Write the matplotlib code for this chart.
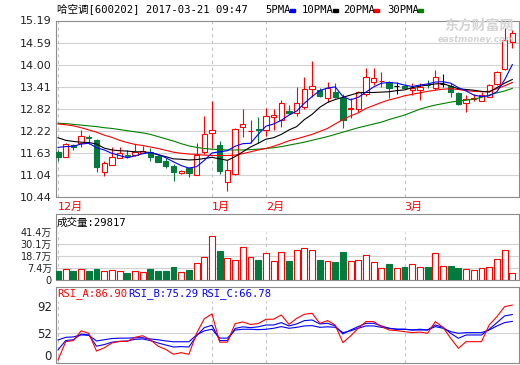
import numpy as np
import matplotlib.pyplot as plt
from matplotlib.patches import Rectangle

# --- 哈空调 600202, daily candles (Dec 2016 - 2017-03-21) ---
opens = [11.64, 11.52, 11.83, 11.90, 12.04, 11.97, 11.11, 11.30, 11.48, 11.57,
         11.56, 11.63, 11.64, 11.53, 11.40, 11.27, 11.07, 11.21, 11.03, 11.65,
         12.15, 11.83, 10.83, 11.04, 12.33, 12.20, 12.27, 12.24, 12.60, 12.51,
         12.76, 12.69, 12.85, 13.33, 13.32, 13.09, 13.25, 13.09, 12.81, 12.80,
         13.21, 13.54, 13.55, 13.54, 13.42, 13.43, 13.32, 13.32, 13.46, 13.36,
         13.47, 13.43, 13.24, 12.96, 13.08, 13.02, 13.14, 13.48, 13.87, 14.60]
highs = [11.69, 11.88, 11.87, 12.24, 12.09, 12.00, 11.41, 11.77, 11.77, 11.70,
         11.85, 11.80, 11.75, 11.57, 11.47, 11.33, 11.15, 11.25, 11.90, 12.62,
         13.02, 11.94, 11.43, 12.30, 12.80, 12.50, 12.60, 12.82, 12.80, 13.04,
         12.91, 13.40, 13.68, 14.10, 13.36, 13.52, 13.51, 13.21, 13.09, 13.30,
         13.90, 13.90, 13.80, 13.56, 13.52, 13.47, 13.50, 13.50, 13.59, 13.86,
         13.76, 13.50, 13.27, 13.18, 13.20, 13.25, 13.49, 13.82, 15.00, 14.94]
lows = [11.41, 11.50, 11.71, 11.78, 11.87, 11.10, 11.01, 11.30, 11.48, 11.48,
        11.55, 11.62, 11.39, 11.38, 11.22, 10.85, 11.05, 10.96, 11.03, 11.60,
        11.75, 11.04, 10.60, 11.03, 12.06, 11.89, 11.90, 12.08, 12.24, 12.33,
        12.66, 12.62, 12.80, 13.13, 13.13, 12.99, 13.09, 12.29, 12.55, 12.73,
        13.16, 13.45, 13.40, 13.09, 13.20, 13.33, 13.18, 13.05, 13.36, 13.32,
        13.40, 13.13, 12.90, 12.73, 13.02, 13.02, 13.12, 13.46, 13.86, 14.46]
closes = [11.51, 11.85, 11.77, 12.07, 12.02, 11.25, 11.34, 11.52, 11.61, 11.55,
          11.65, 11.68, 11.52, 11.38, 11.27, 11.11, 11.13, 11.07, 11.56, 12.13,
          12.24, 11.14, 11.16, 12.27, 12.40, 12.22, 12.25, 12.61, 12.65, 12.96,
          12.70, 12.96, 13.33, 13.42, 13.15, 13.37, 13.14, 12.51, 12.83, 13.25,
          13.66, 13.63, 13.57, 13.38, 13.42, 13.36, 13.37, 13.41, 13.44, 13.66,
          13.47, 13.25, 12.93, 13.07, 13.10, 13.18, 13.45, 13.79, 14.66, 14.84]

ma5 = [11.77, 11.79, 11.80, 11.86, 11.88, 11.76, 11.70, 11.61, 11.55, 11.49,
       11.54, 11.60, 11.63, 11.58, 11.49, 11.38, 11.28, 11.21, 11.25, 11.42,
       11.62, 11.65, 11.68, 11.80, 11.87, 11.88, 12.12, 12.34, 12.40, 12.50,
       12.64, 12.75, 12.96, 13.14, 13.30, 13.37, 13.40, 13.14, 13.05, 13.12,
       13.26, 13.40, 13.50, 13.52, 13.50, 13.45, 13.41, 13.45, 13.48, 13.53,
       13.54, 13.50, 13.38, 13.29, 13.18, 13.14, 13.16, 13.27, 13.59, 14.00]
ma10 = [12.03, 11.96, 11.93, 11.91, 11.90, 11.86, 11.75, 11.70, 11.68, 11.67,
        11.65, 11.65, 11.63, 11.57, 11.52, 11.46, 11.45, 11.43, 11.44, 11.47,
        11.50, 11.46, 11.42, 11.52, 11.65, 11.78, 11.88, 11.99, 12.03, 12.12,
        12.24, 12.33, 12.52, 12.66, 12.85, 12.98, 13.06, 13.12, 13.18, 13.24,
        13.25, 13.25, 13.26, 13.27, 13.30, 13.32, 13.38, 13.42, 13.45, 13.48,
        13.49, 13.42, 13.35, 13.33, 13.31, 13.28, 13.26, 13.38, 13.50, 13.60]
ma20 = [12.40, 12.38, 12.35, 12.30, 12.24, 12.18, 12.10, 12.04, 11.96, 11.90,
        11.85, 11.82, 11.78, 11.74, 11.69, 11.64, 11.61, 11.59, 11.58, 11.56,
        11.55, 11.55, 11.55, 11.56, 11.60, 11.65, 11.70, 11.74, 11.80, 11.87,
        11.95, 12.00, 12.06, 12.12, 12.20, 12.28, 12.40, 12.52, 12.62, 12.70,
        12.82, 12.90, 12.98, 13.05, 13.10, 13.16, 13.20, 13.24, 13.28, 13.31,
        13.34, 13.35, 13.33, 13.30, 13.28, 13.27, 13.28, 13.35, 13.43, 13.52]
ma30 = [12.42, 12.41, 12.39, 12.37, 12.35, 12.33, 12.30, 12.28, 12.25, 12.22,
        12.19, 12.16, 12.12, 12.06, 12.00, 11.94, 11.87, 11.81, 11.77, 11.74,
        11.72, 11.71, 11.70, 11.70, 11.70, 11.71, 11.72, 11.74, 11.76, 11.79,
        11.83, 11.87, 11.91, 11.96, 12.01, 12.06, 12.12, 12.18, 12.24, 12.30,
        12.35, 12.40, 12.45, 12.52, 12.58, 12.64, 12.72, 12.80, 12.86, 12.91,
        12.95, 12.99, 13.02, 13.04, 13.07, 13.12, 13.18, 13.24, 13.29, 13.36]

# volume in 万手
volume = [5.1, 6.5, 4.2, 6.5, 4.2, 6.8, 4.8, 5.8, 4.8, 3.2,
          4.8, 3.9, 6.8, 4.2, 4.2, 8.7, 3.9, 5.8, 12.6, 18.1,
          37.5, 23.3, 17.1, 15.5, 27.8, 18.1, 15.5, 21.3, 14.5, 22.3,
          13.9, 24.2, 26.2, 24.2, 15.5, 14.5, 12.9, 22.6, 14.5, 15.5,
          19.4, 13.6, 7.5, 11.6, 7.5, 8.7, 11.6, 8.7, 8.7, 21.3,
          9.7, 9.7, 7.8, 6.8, 5.8, 7.8, 8.7, 16.5, 24.2, 2.98]

rsi_a = [18.9, 41.6, 43.0, 55.0, 52.0, 30.0, 34.0, 40.0, 42.0, 42.0,
         47.0, 49.0, 44.0, 36.0, 32.0, 26.0, 28.0, 26.0, 52.0, 70.0,
         76.0, 41.0, 41.0, 64.0, 66.0, 63.0, 64.0, 69.3, 69.5, 74.7,
         63.1, 70.5, 75.5, 76.8, 64.4, 67.7, 62.3, 40.4, 48.7, 58.2,
         66.5, 66.5, 60.3, 56.1, 55.3, 54.0, 52.8, 53.5, 52.0, 66.5,
         59.4, 45.8, 33.4, 41.6, 41.6, 41.6, 62.3, 72.6, 85.0, 86.9]
rsi_b = [31.4, 43.0, 44.0, 51.0, 50.0, 36.0, 38.0, 41.0, 42.0, 42.5,
         44.5, 45.0, 43.0, 40.0, 37.5, 35.0, 35.5, 35.0, 49.0, 59.0,
         62.0, 43.0, 43.0, 58.0, 60.0, 59.0, 60.0, 62.3, 62.3, 65.2,
         61.1, 63.6, 67.7, 68.5, 63.6, 64.4, 61.1, 51.2, 56.1, 60.3,
         64.4, 64.4, 61.1, 58.2, 57.0, 57.0, 56.1, 57.0, 56.1, 62.3,
         59.4, 52.0, 45.8, 49.9, 49.9, 49.9, 57.0, 65.2, 73.5, 75.29]
rsi_c = [43.7, 47.0, 47.5, 50.0, 49.5, 42.5, 44.0, 45.5, 46.0, 46.0,
         46.5, 46.5, 45.0, 44.0, 42.5, 41.5, 41.5, 41.5, 50.0, 55.0,
         57.0, 46.0, 46.0, 56.0, 57.0, 57.0, 56.5, 57.0, 58.2, 60.3,
         58.2, 59.4, 61.1, 61.5, 59.4, 60.0, 59.4, 52.8, 55.0, 58.2,
         61.1, 61.1, 59.4, 58.2, 57.0, 57.0, 56.1, 56.1, 56.1, 60.3,
         58.2, 54.0, 52.0, 52.8, 52.8, 52.8, 56.1, 61.1, 65.2, 66.78]

month_pos = [0, 20, 27, 45]
month_labels = ['12月', '1月', '2月', '3月']
price_ticks = ['10.44', '11.04', '11.63', '12.22', '12.82', '13.41', '14.00', '14.59', '15.19']
vol_ticks = [7.4, 18.7, 30.1, 41.4]
rsi_ticks = [52, 92]

RED = '#ff0000'
GREEN = '#007a3d'
FRAME = '#8c8c8c'
GRID = '#d2d2d2'
CJK = ['DejaVu Sans', 'Noto Sans CJK SC']
MONO = ['DejaVu Sans Mono', 'Noto Sans CJK SC']

W, H = 520, 365
fig = plt.figure(figsize=(W / 100, H / 100), dpi=100)


def px_axes(left, top, right, bottom):
    a = fig.add_axes([left / W, 1 - bottom / H, (right - left) / W, (bottom - top) / H])
    for s in a.spines.values():
        s.set_color(FRAME)
        s.set_linewidth(0.8)
    a.tick_params(length=0, labelsize=8, colors='#222222', pad=3)
    a.set_xlim(-0.26, 59.87)
    return a


def ftext(x, y, s, **kw):
    return fig.text(x / W, 1 - y / H, s, va='center', **kw)


x = np.arange(len(closes))
o, h, l, c = (np.array(v) for v in (opens, highs, lows, closes))
up, down, flat = c > o, c < o, c == o

# --- price panel ---
ax = px_axes(56, 20.5, 519, 196.7)
ax.set_ylim(10.44, 15.19)
levels = np.linspace(10.44, 15.19, len(price_ticks))
ax.set_yticks(levels, price_ticks)
for lv in levels[1:-1]:
    ax.axhline(lv, color=GRID, lw=0.8, zorder=0)

wick_col = np.where(up, RED, np.where(down, GREEN, 'black'))
ax.vlines(x, l, h, colors=wick_col, lw=0.8, zorder=2)
ax.bar(x[up], (c - o)[up], bottom=o[up], width=0.68, facecolor='white',
       edgecolor=RED, lw=0.8, zorder=3)
ax.bar(x[down], (c - o)[down], bottom=o[down], width=0.68, color=GREEN,
       edgecolor=GREEN, lw=0.8, zorder=3)
ax.hlines(o[flat], x[flat] - 0.34, x[flat] + 0.34, colors='black', lw=0.8, zorder=3)

ax.plot(x, ma30, color='#008000', lw=0.8, zorder=4)
ax.plot(x, ma20, color=RED, lw=0.8, zorder=4)
ax.plot(x, ma10, color='black', lw=0.8, zorder=4)
ax.plot(x, ma5, color='#0000ff', lw=0.8, zorder=4)

ax.set_xticks(month_pos, month_labels)
for t in ax.get_xticklabels():
    t.set_color(RED)
    t.set_ha('left')
    t.set_family(CJK)
ax.tick_params(axis='x', pad=4)

# watermark
ftext(479, 26, '东方财富网', ha='center', color='#d4d4d4', fontsize=10,
      fontweight='bold', family=['Noto Sans CJK SC'])
ftext(476, 39, 'eastmoney.com', ha='center', color='#d4d4d4', fontsize=6.3,
      fontweight='bold', style='italic')

# --- volume panel ---
vh = px_axes(56, 214, 519, 232.3)
vh.set_xticks([])
vh.set_yticks([])
ftext(57, 223, '成交量:29817', ha='left', fontsize=7.6, color='black', family=MONO)

axv = px_axes(56, 232.3, 519, 280)
vol = np.array(volume)
vol_floor = vol_ticks[0] - (vol_ticks[1] - vol_ticks[0])
axv.set_ylim(vol_floor, vol_ticks[-1])
axv.set_yticks([vol_floor] + vol_ticks, ['0'] + ['%.1f万' % v for v in vol_ticks])
axv.tick_params(axis='y', labelsize=7)
for t in axv.get_yticklabels():
    t.set_family(CJK)
for lv in vol_ticks[:-1]:
    axv.axhline(lv, color=GRID, lw=0.8, zorder=0)
axv.spines['top'].set_visible(False)
vup = c >= o
axv.bar(x[vup], vol[vup] - vol_floor, bottom=vol_floor, width=0.76, facecolor='white',
        edgecolor=RED, lw=0.8, zorder=3)
axv.bar(x[~vup], vol[~vup] - vol_floor, bottom=vol_floor, width=0.76, color=GREEN,
        edgecolor=GREEN, lw=0.8, zorder=3)
axv.set_xticks([])

# --- RSI panel ---
rh = px_axes(56, 287, 519, 301)
rh.set_xticks([])
rh.set_yticks([])
ftext(57, 294, 'RSI_A:86.90', ha='left', fontsize=7.6, color=RED, family=MONO)
ftext(128, 294, 'RSI_B:75.29', ha='left', fontsize=7.6, color='#0000ff', family=MONO)
ftext(201, 294, 'RSI_C:66.78', ha='left', fontsize=7.6, color='#0000ff', family=MONO)

axr = px_axes(56, 301, 519, 363)
rsi_lo = 15.2
axr.set_ylim(rsi_lo, rsi_ticks[-1])
axr.set_yticks([rsi_lo] + rsi_ticks, ['0', '52', '92'])
axr.tick_params(axis='y', labelsize=8.5)
labs = axr.get_yticklabels()
labs[0].set_va('bottom')
labs[-1].set_va('top')
axr.spines['top'].set_visible(False)
axr.axhline(rsi_ticks[0], color=GRID, lw=0.8, zorder=0)
axr.plot(x, rsi_c, color='#0000ff', lw=0.8)
axr.plot(x, rsi_b, color='#0000ff', lw=0.8)
axr.plot(x, rsi_a, color=RED, lw=0.8)
axr.set_xticks([])

for a in (ax, axv, axr):
    for p in month_pos:
        a.axvline(p, color='#c4c4c4', lw=0.8, ls=(0, (3, 3)), zorder=0)

# --- header: title and MA legend ---
ftext(57, 10, '哈空调[600202] 2017-03-21 09:47', ha='left', fontsize=7.6,
      color='black', family=MONO)
legend = [('5PMA', '#0000ff', 265), ('10PMA', 'black', 302),
          ('20PMA', RED, 343), ('30PMA', '#008000', 387)]
for name, col, lx in legend:
    t = ftext(lx, 10, name, ha='left', fontsize=7.6, color='black', family=MONO)
    fig.patches.append(Rectangle(((lx + 6 * len(name) + 1) / W, 1 - 12 / H), 5 / W, 3 / H,
                                 color=col, transform=fig.transFigure))

fig.savefig('out.png', dpi=100)
